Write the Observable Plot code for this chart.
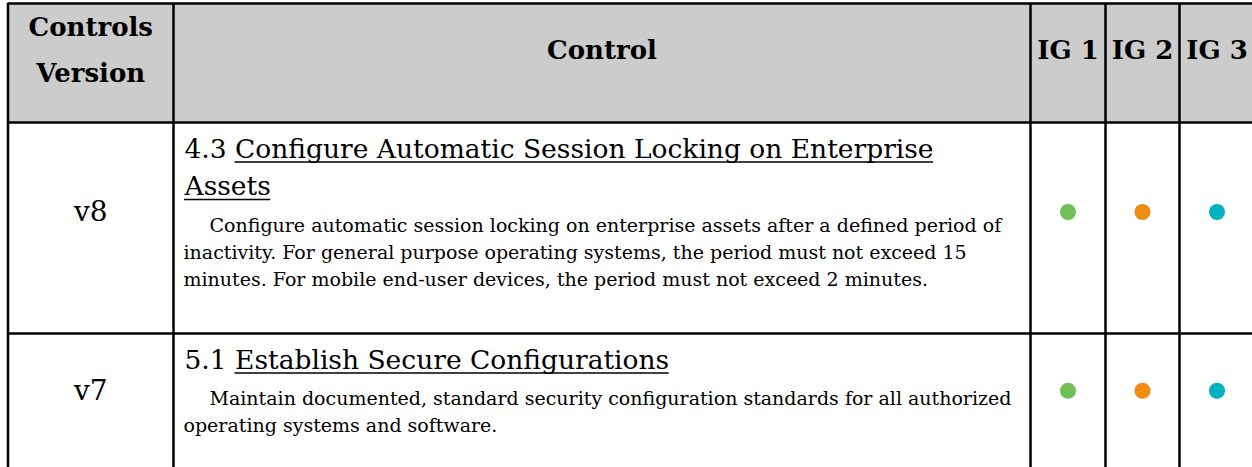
<!DOCTYPE html>
<html>
<head>
<meta charset="utf-8">
<script src="https://cdn.jsdelivr.net/npm/d3@7"></script>
<script src="https://cdn.jsdelivr.net/npm/@observablehq/plot@0.6"></script>
<style>
  html, body { margin: 0; padding: 0; background: #ffffff; }
  #chart svg { display: block; }
</style>
</head>
<body>
<div id="chart"></div>
<script>
// ---------- data ----------
const headers = ["Controls\nVersion", "Control", "IG 1", "IG 2", "IG 3"];
const versions = ["v8", "v7"];
const controlIds = ["4.3", "5.1"];
const titleLines = [
  ["Configure Automatic Session Locking on Enterprise", "Assets"],
  ["Establish Secure Configurations"]
];
const descLines = [
  [
    "Configure automatic session locking on enterprise assets after a defined period of",
    "inactivity. For general purpose operating systems, the period must not exceed 15",
    "minutes. For mobile end-user devices, the period must not exceed 2 minutes."
  ],
  [
    "Maintain documented, standard security configuration standards for all authorized",
    "operating systems and software."
  ]
];
const ig1 = [true, true];
const ig2 = [true, true];
const ig3 = [true, true];
const igColors = ["#6fbf55", "#f28b12", "#00b1bf"];

// ---------- layout ----------
const W = 1252, H = 467;
const colEdges = [7.5, 173, 1030, 1105, 1179, 1254];
const headerTop = 3, headerBottom = 122;
const FONT = "DejaVu Serif";
const headerSize = 26, versionSize = 28, titleSize = 26.5, descSize = 19;
const titleFirst = 35, titleLH = 37.5, descGap = 36.5, descLH = 27, trailing = 48;
const indent = 26, padLeft = 10, underlineOffset = 4.5;

const colMid = i => (colEdges[i] + colEdges[i + 1]) / 2;

// text measurement for underlines
const ctx = document.createElement("canvas").getContext("2d");
ctx.font = `${titleSize}px "${FONT}"`;
const measure = s => ctx.measureText(s).width;

// row geometry from line counts
const rowTops = [];
const rowBottoms = [];
let cursorY = headerBottom;
versions.forEach((v, r) => {
  rowTops.push(cursorY);
  const h = titleFirst + (titleLines[r].length - 1) * titleLH + descGap + (descLines[r].length - 1) * descLH + trailing;
  cursorY += h;
  rowBottoms.push(cursorY);
});
const rowMid = r => rowTops[r] + (titleLines[r].length * titleLH + descLines[r].length * descLH + 23) / 2;

// header line records
const headerRecs = [];
headers.forEach((h, i) => {
  const lines = h.split("\n");
  lines.forEach((t, k) => {
    headerRecs.push({text: t, x: colMid(i), y: headerTop + 55 + (k - (lines.length - 1) / 2) * 46});
  });
});

// title, underline and description line records
const titleRecs = [];
const underlineRecs = [];
const descRecs = [];
versions.forEach((v, r) => {
  titleLines[r].forEach((t, k) => {
    const x0 = colEdges[1] + padLeft + 1;
    const y0 = rowTops[r] + titleFirst + k * titleLH;
    const prefix = k === 0 ? controlIds[r] + " " : "";
    titleRecs.push({text: prefix + t, x: x0, y: y0});
    const ux = x0 + (prefix ? measure(prefix) : 0);
    underlineRecs.push({x1: ux, x2: ux + measure(t), y: y0 + underlineOffset});
  });
  const descTop = rowTops[r] + titleFirst + (titleLines[r].length - 1) * titleLH + descGap;
  descLines[r].forEach((t, k) => {
    descRecs.push({
      text: t,
      x: colEdges[1] + padLeft + (k === 0 ? indent : 0),
      y: descTop + k * descLH
    });
  });
});

const versionRecs = versions.map((v, r) => ({text: v, x: colMid(0), y: rowMid(r)}));

const dotRecs = [];
[ig1, ig2, ig3].forEach((col, c) => {
  col.forEach((on, r) => {
    if (on) dotRecs.push({x: colMid(c + 2), y: rowMid(r), ig: c});
  });
});

const hLines = [headerTop, headerBottom, ...rowBottoms];

// ---------- chart ----------
const chart = Plot.plot({
  width: W,
  height: H,
  margin: 0,
  x: {type: "linear", domain: [0, W], range: [0, W], axis: null},
  y: {type: "linear", domain: [0, H], range: [0, H], axis: null},
  style: {background: "#ffffff", fontFamily: FONT},
  marks: [
    Plot.rect(headers.map((h, i) => i), {
      x1: i => colEdges[i], x2: i => colEdges[i + 1],
      y1: headerTop, y2: headerBottom,
      fill: "#cccccc"
    }),
    Plot.text(headerRecs, {
      x: "x", y: "y", text: "text",
      fontFamily: FONT, fontWeight: "bold", fontSize: headerSize,
      lineAnchor: "bottom", textAnchor: "middle", fill: "#000000"
    }),
    Plot.text(versionRecs, {
      x: "x", y: "y", text: "text",
      fontFamily: FONT, fontSize: versionSize,
      lineAnchor: "middle", textAnchor: "middle", fill: "#000000"
    }),
    Plot.text(titleRecs, {
      x: "x", y: "y", text: "text",
      fontFamily: FONT, fontSize: titleSize,
      lineAnchor: "bottom", textAnchor: "start", fill: "#000000"
    }),
    Plot.ruleY(underlineRecs, {
      x1: "x1", x2: "x2", y: "y",
      stroke: "#000000", strokeWidth: 1.6
    }),
    Plot.text(descRecs, {
      x: "x", y: "y", text: "text",
      fontFamily: FONT, fontSize: descSize,
      lineAnchor: "bottom", textAnchor: "start", fill: "#000000"
    }),
    Plot.dot(dotRecs, {
      x: "x", y: "y", r: 8,
      fill: d => igColors[d.ig], stroke: "none"
    }),
    Plot.ruleX(colEdges, {
      x: d => d, y1: headerTop, y2: H + 20,
      stroke: "#000000", strokeWidth: 2.5
    }),
    Plot.ruleY(hLines, {
      y: d => d, x1: colEdges[0], x2: colEdges[colEdges.length - 1],
      stroke: "#000000", strokeWidth: 2.5
    })
  ]
});

document.getElementById("chart").appendChild(chart);
</script>
</body>
</html>
